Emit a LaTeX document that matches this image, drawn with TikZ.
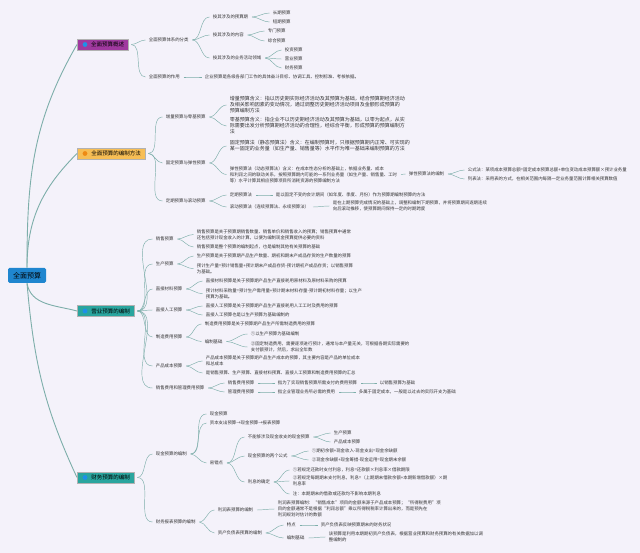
\documentclass[tikz,border=0pt]{standalone}
\usepackage{fontspec}
\setmainfont{Noto Sans CJK SC}
\usepackage{tikz}

\definecolor{bgcol}{HTML}{F4F2FA}
\definecolor{rootcol}{HTML}{1F86CF}
\definecolor{ovcol}{HTML}{A0399F}
\definecolor{mtcol}{HTML}{F7BE55}
\definecolor{opcol}{HTML}{2AA59E}
\definecolor{dotblue}{HTML}{1E90E8}
\definecolor{dotorange}{HTML}{EE8A14}
\definecolor{linkcol}{HTML}{7DAEAA}
\definecolor{txtcol}{HTML}{333333}

\begin{document}
\begin{tikzpicture}[
                            x=1pt,
                            y=1pt,
                            auto,
                            semithick
                        ]
                        \tikzstyle{topic}=[anchor=west,draw=black!30,line width=0.3pt,minimum height=11pt,inner xsep=2pt,inner ysep=0pt,font=\fontsize{5.5}{6}\selectfont,text=black]
                        \tikzstyle{sub}=[anchor=west,inner sep=0.6pt,align=left,text=txtcol,font=\fontsize{4.4}{5.9}\selectfont]
                        \tikzstyle{para}=[sub,font=\fontsize{5}{6}\selectfont]
                        \tikzstyle{link}=[draw=linkcol,line width=0.45pt,out=0,in=180,shorten <=3pt,shorten >=2.5pt]
                        \tikzstyle{trunk}=[draw=linkcol,line width=0.9pt]

                        \fill[bgcol] (0,0) rectangle (640,-553);
                        \useasboundingbox (0,0) rectangle (640,-553);

                        \node[fill=rootcol,rounded corners=1.5pt,minimum width=38pt,minimum height=15pt,inner sep=0pt,font=\fontsize{7}{8}\selectfont] (root) at (27,-275.5) {全面预算};

                        % overview
                        \node[topic,fill=ovcol,minimum width=51pt] (ov) at (77,-44.5) {\hspace{10pt}全面预算概述};
                        \node[sub] (cls)    at (148,-40) {全面预算体系的分类};
                        \node[sub] (role)   at (148,-77) {全面预算的作用};
                        \node[sub] (cls1)   at (212,-17) {按其涉及的预算期};
                        \node[sub] (cls2)   at (212,-35) {按其涉及的内容};
                        \node[sub] (cls3)   at (212,-58) {按其涉及的业务活动领域};
                        \node[sub] (long)   at (272,-13) {长期预算};
                        \node[sub] (short)  at (272,-22) {短期预算};
                        \node[sub] (spec)   at (267,-31) {专门预算};
                        \node[sub] (comp)   at (267,-41) {综合预算};
                        \node[sub] (inv)    at (284,-50) {投资预算};
                        \node[sub] (opb)    at (284,-59) {营业预算};
                        \node[sub] (finb)   at (284,-68) {财务预算};
                        \node[sub] (roletx) at (204,-77) {企业预算是各级各部门工作的具体奋斗目标、协调工具、控制标准、考核依据。};

                        % methods
                        \node[topic,fill=mtcol,minimum width=68pt] (mt) at (77,-153.5) {\hspace{10pt}全面预算的编制方法};
                        \node[sub] (incr)  at (165,-117) {增量预算与零基预算};
                        \node[sub] (fixd)  at (165,-163) {固定预算与弹性预算};
                        \node[sub] (roll)  at (165,-201) {定期预算与滚动预算};
                        \node[para] (incr1) at (229,-105) {增量预算含义：指以历史期实际经济活动及其预算为基础，结合预算期经济活动\\及相关影响因素的变动情况，通过调整历史期经济活动项目及金额形成预算的\\预算编制方法};
                        \node[para] (incr2) at (229,-126) {零基预算含义：指企业不以历史期经济活动及其预算为基础，以零为起点，从实\\际需要出发分析预算期经济活动的合理性，经综合平衡，形成预算的预算编制方\\法};
                        \node[para] (fixd1) at (229,-146) {固定预算法（静态预算法）含义：在编制预算时，只根据预算期内正常、可实现的\\某一固定的业务量（如生产量、销售量等）水平作为唯一基础来编制预算的方法};
                        \node[sub] (fixd2) at (229,-174.5) {弹性预算法（动态预算法）含义：在成本性态分析的基础上，依据业务量、成本\\和利润之间的联动关系，按照预算期内可能的一系列业务量（如生产量、销售量、工时\\等）水平计算其相应预算项目所消耗资源的预算编制方法};
                        \node[sub] (flex)  at (408,-174) {弹性预算法的编制};
                        \node[sub] (flex1) at (467,-170) {公式法：某项成本预算总额=固定成本预算总额+单位变动成本预算额×预计业务量};
                        \node[sub] (flex2) at (467,-179) {列表法：采用表的方式，在相关范围内每隔一定业务量范围计算相关预算数值};
                        \node[sub] (roll1)   at (229,-195) {定期预算法};
                        \node[sub] (roll1tx) at (275,-195) {是以固定不变的会计期间（如年度、季度、月份）作为预算期编制预算的方法};
                        \node[sub] (roll2)   at (229,-207) {滚动预算法（连续预算法、永续预算法）};
                        \node[sub] (roll2tx) at (332,-206) {是在上期预算完成情况的基础上，调整和编制下期预算，并将预算期间逐期连续\\向后滚动推移，使预算期间保持一定的时期跨度};

                        % operating budgets
                        \node[topic,fill=opcol,minimum width=57pt] (op) at (77,-311) {\hspace{10pt}营业预算的编制};
                        \node[sub] (sale)  at (155,-239) {销售预算};
                        \node[sub] (prod)  at (155,-264) {生产预算};
                        \node[sub] (matl)  at (155,-289) {直接材料预算};
                        \node[sub] (labr)  at (155,-310) {直接人工预算};
                        \node[sub] (ovhd)  at (155,-337) {制造费用预算};
                        \node[sub] (cost)  at (155,-366) {产品成本预算};
                        \node[sub] (expn)  at (155,-388) {销售费用和管理费用预算};
                        \node[sub] (sale1) at (196,-234.5) {销售预算是关于预算期销售数量、销售单价和销售收入的预算；销售预算中通常\\还包括预计现金收入的计算，以便为编制现金预算提供必要的资料};
                        \node[sub] (sale2) at (196,-247) {销售预算是整个预算的编制起点，也是编制其他有关预算的基础};
                        \node[sub] (prod1) at (196,-256) {生产预算是关于预算期产品生产数量、期初和期末产成品存货的生产数量的预算};
                        \node[sub] (prod2) at (196,-268.7) {预计生产量=预计销售量+预计期末产成品存货-预计期初产成品存货；以销售预算\\为基础。};
                        \node[sub] (matl1) at (205,-281) {直接材料预算是关于预算期产品生产直接耗用原材料及原材料采购的预算};
                        \node[sub] (matl2) at (205,-293.7) {预计材料采购量=预计生产需用量+预计期末材料存量-预计期初材料存量；以生产\\预算为基础。};
                        \node[sub] (labr1) at (205,-306) {直接人工预算是关于预算期产品生产直接耗用人工工时及费用的预算};
                        \node[sub] (labr2) at (205,-315) {直接人工预算也是以生产预算为基础编制的};
                        \node[sub] (ovhd1) at (204,-324) {制造费用预算是关于预算期产品生产所需制造费用的预算};
                        \node[sub] (ovhd2) at (204,-341.5) {编制基础};
                        \node[sub] (base1) at (250,-334) {①以生产预算为基础编制};
                        \node[sub] (base2) at (250,-347) {②固定制造费用，需要逐项进行预计，通常与本产量无关，可根据各期实际需要的\\支付额预计，然后，求出全年数};
                        \node[sub] (cost1) at (205,-361) {产品成本预算是关于预算期产品生产成本的预算，其主要内容是产品的单位成本\\和总成本};
                        \node[sub] (cost2) at (205,-373) {是销售预算、生产预算、直接材料预算、直接人工预算和制造费用预算的汇总};
                        \node[sub] (sexp)  at (227,-383) {销售费用预算};
                        \node[sub] (aexp)  at (227,-392) {管理费用预算};
                        \node[sub] (sexp1) at (277,-383) {指为了实现销售预算所需支付的费用预算};
                        \node[sub] (sexp2) at (379,-383) {以销售预算为基础};
                        \node[sub] (aexp1) at (277,-392) {指企业管理业务所必需的费用};
                        \node[sub] (aexp2) at (358,-392) {多属于固定成本，一般是以过去的实际开支为基础};

                        % financial budgets
                        \node[topic,fill=opcol,minimum width=57pt] (fn) at (77,-477.5) {\hspace{10pt}财务预算的编制};
                        \node[sub] (cash)   at (155,-454) {现金预算的编制};
                        \node[sub] (stmt)   at (155,-522) {财务报表预算的编制};
                        \node[sub] (cash1)  at (209,-414) {现金预算};
                        \node[sub] (cash2)  at (209,-423) {资本支出预算→现金预算→报表预算};
                        \node[sub] (trap)   at (209,-463) {易错点};
                        \node[sub] (trap1)  at (247,-437) {不能够涉及现金收支的现金预算};
                        \node[sub] (trap2)  at (247,-456) {现金预算的两个公式};
                        \node[sub] (trap3)  at (247,-482) {利息的确定};
                        \node[sub] (nc1)    at (333,-433) {生产预算};
                        \node[sub] (nc2)    at (333,-442) {产品成本预算};
                        \node[sub] (eq1)    at (311,-451) {①期初余额+现金收入-现金支出=现金余缺额};
                        \node[sub] (eq2)    at (311,-460) {②现金余缺额+现金筹措-现金运用=现金期末余额};
                        \node[sub] (int1)   at (292,-470) {①若规定还款时支付利息，利息=还款额×利息率×借款期限};
                        \node[sub] (int2)   at (292,-481) {②若规定每期期末支付利息，利息=（上期期末借款余额+本期新增借款额）×期\\利息率};
                        \node[sub] (int3)   at (292,-494) {注：本期期末的借款或还款均不影响本期利息};
                        \node[sub] (pl)     at (217,-510) {利润表预算的编制};
                        \node[sub] (pltx)   at (277,-509) {利润表预算编制：“销售成本”项目的金额来源于产品成本预算；“所得税费用”项\\目的金额通常不是根据“利润总额”乘以所得税税率计算出来的，而是预先在\\利润规划时估计的数额};
                        \node[sub] (bs)     at (217,-533) {资产负债表预算的编制};
                        \node[sub] (bs1)    at (286,-525) {特点};
                        \node[sub] (bs2)    at (286,-538) {编制基础};
                        \node[sub] (bs1tx)  at (320,-525) {资产负债表反映预算期末的财务状况};
                        \node[sub] (bs2tx)  at (328,-537) {该预算是利用本期期初资产负债表，根据营业预算和财务预算的有关数据加以调\\整编制的};

                        % icons
                        \fill[dotblue]   ([xshift=8pt]ov.west) circle (2.4pt);
                        \fill[dotorange] ([xshift=8pt]mt.west) circle (2.4pt);
                        \fill[dotblue]   ([xshift=8pt]op.west) circle (2.4pt);
                        \fill[dotblue]   ([xshift=8pt]fn.west) circle (2.4pt);

                        \path
                        (root.north) edge [trunk,out=90,in=240]  (ov.west)
                        (root.north) edge [trunk,out=90,in=225]  (mt.west)
                        (root.south) edge [trunk,out=-80,in=165] (op.west)
                        (root.south) edge [trunk,out=-85,in=115] (fn.west)
                        ;

                        \path
                        (ov.east)   edge [link] (cls.west)
                        (ov.east)   edge [link] (role.west)
                        (cls.east)  edge [link] (cls1.west)
                        (cls.east)  edge [link] (cls2.west)
                        (cls.east)  edge [link] (cls3.west)
                        (cls1.east) edge [link] (long.west)
                        (cls1.east) edge [link] (short.west)
                        (cls2.east) edge [link] (spec.west)
                        (cls2.east) edge [link] (comp.west)
                        (cls3.east) edge [link] (inv.west)
                        (cls3.east) edge [link] (opb.west)
                        (cls3.east) edge [link] (finb.west)
                        (role.east) edge [link] (roletx.west)
                        (mt.east)   edge [link] (incr.west)
                        (mt.east)   edge [link] (fixd.west)
                        (mt.east)   edge [link] (roll.west)
                        (incr.east) edge [link] (incr1.west)
                        (incr.east) edge [link] (incr2.west)
                        (fixd.east) edge [link] (fixd1.west)
                        (fixd.east) edge [link] (fixd2.west)
                        (fixd2.east) edge [link] (flex.west)
                        (flex.east) edge [link] (flex1.west)
                        (flex.east) edge [link] (flex2.west)
                        (roll.east) edge [link] (roll1.west)
                        (roll.east) edge [link] (roll2.west)
                        (roll1.east) edge [link] (roll1tx.west)
                        (roll2.east) edge [link] (roll2tx.west)
                        ;

                        \path
                        (op.east)   edge [link] (sale.west)
                        (op.east)   edge [link] (prod.west)
                        (op.east)   edge [link] (matl.west)
                        (op.east)   edge [link] (labr.west)
                        (op.east)   edge [link] (ovhd.west)
                        (op.east)   edge [link] (cost.west)
                        (op.east)   edge [link] (expn.west)
                        (sale.east) edge [link] (sale1.west)
                        (sale.east) edge [link] (sale2.west)
                        (prod.east) edge [link] (prod1.west)
                        (prod.east) edge [link] (prod2.west)
                        (matl.east) edge [link] (matl1.west)
                        (matl.east) edge [link] (matl2.west)
                        (labr.east) edge [link] (labr1.west)
                        (labr.east) edge [link] (labr2.west)
                        (ovhd.east) edge [link] (ovhd1.west)
                        (ovhd.east) edge [link] (ovhd2.west)
                        (ovhd2.east) edge [link] (base1.west)
                        (ovhd2.east) edge [link] (base2.west)
                        (cost.east) edge [link] (cost1.west)
                        (cost.east) edge [link] (cost2.west)
                        (expn.east) edge [link] (sexp.west)
                        (expn.east) edge [link] (aexp.west)
                        (sexp.east) edge [link] (sexp1.west)
                        (sexp1.east) edge [link] (sexp2.west)
                        (aexp.east) edge [link] (aexp1.west)
                        (aexp1.east) edge [link] (aexp2.west)
                        ;

                        \path
                        (fn.east)    edge [link] (cash.west)
                        (fn.east)    edge [link] (stmt.west)
                        (cash.east)  edge [link] (cash1.west)
                        (cash.east)  edge [link] (cash2.west)
                        (cash.east)  edge [link] (trap.west)
                        (trap.east)  edge [link] (trap1.west)
                        (trap.east)  edge [link] (trap2.west)
                        (trap.east)  edge [link] (trap3.west)
                        (trap1.east) edge [link] (nc1.west)
                        (trap1.east) edge [link] (nc2.west)
                        (trap2.east) edge [link] (eq1.west)
                        (trap2.east) edge [link] (eq2.west)
                        (trap3.east) edge [link] (int1.west)
                        (trap3.east) edge [link] (int2.west)
                        (trap3.east) edge [link] (int3.west)
                        (stmt.east)  edge [link] (pl.west)
                        (stmt.east)  edge [link] (bs.west)
                        (pl.east)    edge [link] (pltx.west)
                        (bs.east)    edge [link] (bs1.west)
                        (bs.east)    edge [link] (bs2.west)
                        (bs1.east)   edge [link] (bs1tx.west)
                        (bs2.east)   edge [link] (bs2tx.west)
                        ;
                    \end{tikzpicture}
\end{document}
